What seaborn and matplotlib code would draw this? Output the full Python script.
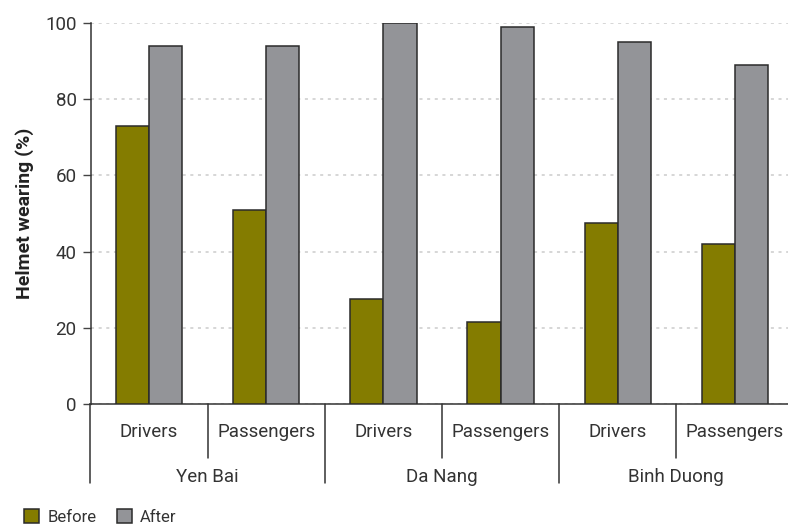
import matplotlib
matplotlib.use("Agg")
import matplotlib.pyplot as plt
import matplotlib.transforms as mtransforms
from matplotlib.patches import Patch
import seaborn as sns
import pandas as pd

regions = ["Yen Bai", "Da Nang", "Binh Duong"]
road_users = ["Drivers", "Passengers"]
periods = ["Before", "After"]
before_values = [73, 51, 27.5, 21.5, 47.5, 42]
after_values = [94, 94, 100, 99, 95, 89]
y_ticks = [0, 20, 40, 60, 80, 100]

sns.set_theme(style="white")
plt.rcParams["font.family"] = ["Roboto", "DejaVu Sans"]

keys = [f"{r}|{u}" for r in regions for u in road_users]
rows = []
for k, b, a in zip(keys, before_values, after_values):
    rows.append({"key": k, "period": "Before", "value": b})
    rows.append({"key": k, "period": "After", "value": a})
df = pd.DataFrame(rows)

colors = {"Before": "#847c00", "After": "#939498"}
edge = "#2b2b2b"
fs = 13.5

fig = plt.figure(figsize=(7.88, 5.25), dpi=100)
ax = fig.add_axes([90.5 / 788, 121 / 525, 703 / 788, 381 / 525])

sns.barplot(data=df, x="key", y="value", hue="period", order=keys,
            hue_order=periods, palette=colors, width=0.565,
            edgecolor=edge, linewidth=1.1, saturation=1, ax=ax, legend=False,
            errorbar=None, zorder=3)

ax.set_xlim(-0.5, 5.5)
ax.set_ylim(0, 100)
ax.set_yticks(y_ticks)
ax.set_yticklabels([str(t) for t in y_ticks], fontsize=fs, color="#333333")
ax.yaxis.grid(True, linestyle=(0, (2, 3)), color="#cccccc", linewidth=1.1, zorder=0)
ax.set_axisbelow(True)
ax.tick_params(axis="y", length=6, width=1, color="#444444", left=True, pad=4)
ax.tick_params(axis="x", length=0, pad=14)
ax.set_xticks(range(len(keys)))
ax.set_xticklabels([u for r in regions for u in road_users], fontsize=fs, color="#333333")
ax.set_xlabel("")
ax.set_ylabel("Helmet wearing (%)", fontsize=fs + 0.5, fontweight="bold", color="#222222", labelpad=8)

for s in ["top", "right"]:
    ax.spines[s].set_visible(False)
ax.spines["left"].set_color("#333333")
ax.spines["bottom"].set_color("#333333")
ax.spines["left"].set_linewidth(1.1)
ax.spines["bottom"].set_linewidth(1.1)

trans = mtransforms.blended_transform_factory(ax.transData, ax.transAxes)
inner_y = -54 / 381
outer_y = -79 / 381
for x in [0.5, 2.5, 4.5]:
    ax.plot([x, x], [0, inner_y], transform=trans, color="#333333", lw=1.1, clip_on=False)
for x in [-0.5, 1.5, 3.5]:
    ax.plot([x, x], [0, outer_y], transform=trans, color="#333333", lw=1.1, clip_on=False)
for i, r in enumerate(regions):
    ax.text(2 * i + 0.5, -73 / 381, r, transform=trans, ha="center", va="center",
            fontsize=fs, color="#333333")

handles = [Patch(facecolor=colors[p], edgecolor=edge, linewidth=1.1, label=p) for p in periods]
fig.legend(handles=handles, loc="lower left", bbox_to_anchor=(0.012, -0.028), ncol=2,
           frameon=False, fontsize=12, handlelength=0.9, handleheight=0.9,
           handletextpad=0.5, columnspacing=1.2, labelcolor="#333333")

fig.savefig("out.png", dpi=100)
